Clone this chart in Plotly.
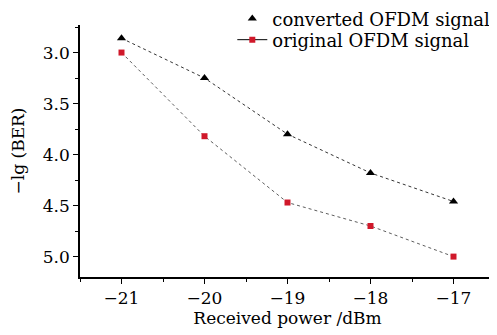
import plotly.graph_objects as go

power = [-21, -20, -19, -18, -17]
converted = [2.86, 3.25, 3.80, 4.18, 4.46]
original = [3.00, 3.82, 4.47, 4.70, 5.00]
xticks = [-21, -20, -19, -18, -17]
yticks = [3.0, 3.5, 4.0, 4.5, 5.0]
names = ["converted OFDM signal", "original OFDM signal"]

FONT = "DejaVu Serif, Liberation Serif, serif"
RED = "#d0182a"

fig = go.Figure()
fig.add_trace(go.Scatter(x=power, y=converted, mode="lines+markers", showlegend=False,
                         line=dict(color="black", width=0.8, dash="dot"),
                         marker=dict(symbol="triangle-up", size=8, color="black")))
fig.add_trace(go.Scatter(x=power, y=original, mode="lines+markers", showlegend=False,
                         line=dict(color="#333333", width=0.8, dash="dot"),
                         marker=dict(symbol="square", size=6, color=RED)))
# legend-only entries
fig.add_trace(go.Scatter(x=[None], y=[None], mode="markers", name=names[0], legend="legend",
                         marker=dict(symbol="triangle-up", size=8, color="black")))
fig.add_trace(go.Scatter(x=[None], y=[None], mode="lines+markers", name=names[1], legend="legend2",
                         line=dict(color="black", width=1),
                         marker=dict(symbol="square", size=6, color=RED)))

leg_common = dict(x=0.367, xanchor="left", yanchor="top", bgcolor="rgba(0,0,0,0)",
                  font=dict(size=18, family=FONT), itemwidth=30)

fig.update_layout(
    width=489, height=327,
    margin=dict(l=72, r=2, t=17, b=58, autoexpand=False),
    paper_bgcolor="white", plot_bgcolor="white",
    font=dict(family=FONT, size=16, color="black"),
    legend=dict(y=1.098, **leg_common),
    legend2=dict(y=1.014, **leg_common),
    xaxis=dict(range=[-21.5, -16.5], tickvals=xticks,
               ticktext=["\u2212" + str(abs(v)) for v in xticks],
               showline=True, linecolor="black", linewidth=1.5,
               ticks="outside", ticklen=5, tickcolor="black",
               minor=dict(ticks="outside", ticklen=3, dtick=0.5, tickcolor="black"),
               showgrid=False, zeroline=False, automargin=False,
               tickfont=dict(size=17),
               title=dict(text="Received power /dBm", font=dict(size=17), standoff=4)),
    yaxis=dict(range=[5.2, 2.73], tickvals=yticks,
               ticktext=[f"{v:.1f}" for v in yticks],
               showline=True, linecolor="black", linewidth=1.5,
               ticks="outside", ticklen=5, tickcolor="black",
               minor=dict(ticks="outside", ticklen=3, dtick=0.25, tickcolor="black"),
               showgrid=False, zeroline=False, automargin=False,
               tickfont=dict(size=17),
               title=dict(text="\u2212lg (BER)", font=dict(size=17), standoff=14)),
)

fig.write_html("out.html")
